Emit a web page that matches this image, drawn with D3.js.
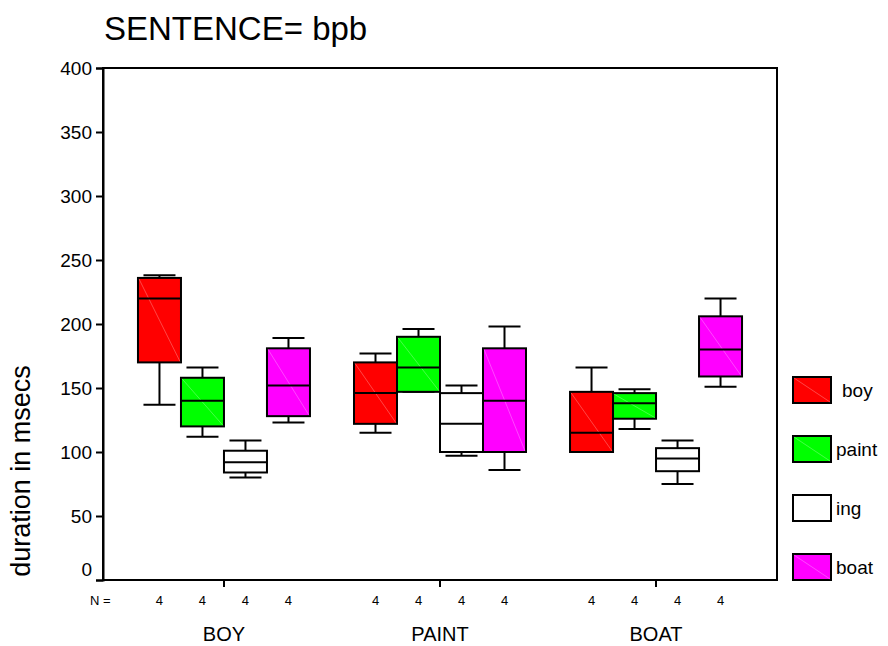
<!DOCTYPE html>
<html>
<head>
<meta charset="utf-8">
<script src="https://cdn.jsdelivr.net/npm/d3@7"></script>
<style>
  body { margin: 0; background: #fff; }
  text { font-family: "Liberation Sans", Arial, sans-serif; fill: #000; }
  .narrow { font-family: "Liberation Sans Narrow", "Liberation Sans", Arial, sans-serif; }
</style>
</head>
<body>
<div id="chart"></div>
<script>
// categories on the x axis and the series drawn inside each of them
const groups = ["BOY", "PAINT", "BOAT"];
const series = ["boy", "paint", "ing", "boat"];
const colors = ["#ff0000", "#00ff00", "#ffffff", "#ff00ff"];

// per series, per group: [lower whisker, q1, median, q3, upper whisker]
const boyStats   = [[137, 170, 220, 236, 238], [115, 122, 146, 170, 177], [100, 100, 115, 147, 166]];
const paintStats = [[112, 120, 140, 158, 166], [147, 147, 166, 190, 196], [118, 126, 138, 146, 149]];
const ingStats   = [[80, 84, 92, 101, 109],    [97, 100, 122, 146, 152],  [75, 85, 95, 103, 109]];
const boatStats  = [[123, 128, 152, 181, 189], [86, 100, 140, 181, 198],  [151, 159, 180, 206, 220]];
const nCounts = [[4, 4, 4, 4], [4, 4, 4, 4], [4, 4, 4, 4]];
const yTicks = [0, 50, 100, 150, 200, 250, 300, 350, 400];

const allStats = [boyStats, paintStats, ingStats, boatStats];

const width = 888, height = 646;
const plot = { left: 103, right: 777, top: 68, bottom: 580 };

const svg = d3.select("#chart")
  .append("svg")
  .attr("width", width)
  .attr("height", height);

const x = d3.scaleBand()
  .domain(groups)
  .range([plot.left, plot.right])
  .paddingInner(0)
  .paddingOuter(0.06);

const xSub = d3.scaleBand()
  .domain(series)
  .range([-86, 86]);

const y = d3.scaleLinear()
  .domain([0, 400])
  .range([plot.bottom, plot.top]);

// title
svg.append("text")
  .attr("x", 104)
  .attr("y", 40)
  .attr("font-size", 33)
  .text("SENTENCE= bpb");

// frame
svg.append("rect")
  .attr("x", plot.left)
  .attr("y", plot.top)
  .attr("width", plot.right - plot.left)
  .attr("height", plot.bottom - plot.top)
  .attr("fill", "none")
  .attr("stroke", "#000")
  .attr("stroke-width", 2);

// y axis
const yAxis = svg.append("g")
  .attr("transform", `translate(${plot.left},0)`)
  .call(d3.axisLeft(y).tickValues(yTicks).tickSize(7).tickPadding(4));
yAxis.select(".domain").attr("stroke-width", 2);
yAxis.selectAll(".tick line").attr("stroke-width", 2);
yAxis.selectAll(".tick text")
  .attr("font-size", 19)
  .attr("font-family", "Liberation Sans, Arial, sans-serif")
  .attr("fill", "#000")
  .attr("dy", d => d === 0 ? "-0.25em" : "0.32em");

svg.append("text")
  .attr("transform", "translate(30,471) rotate(-90)")
  .attr("text-anchor", "middle")
  .attr("font-size", 27)
  .text("duration in msecs");

// x axis ticks under the frame
svg.append("g")
  .selectAll("line")
  .data(groups)
  .join("line")
  .attr("x1", d => x(d) + x.bandwidth() / 2)
  .attr("x2", d => x(d) + x.bandwidth() / 2)
  .attr("y1", plot.bottom)
  .attr("y2", plot.bottom + 7)
  .attr("stroke", "#000")
  .attr("stroke-width", 2);

svg.append("g")
  .selectAll("text")
  .data(groups)
  .join("text")
  .attr("class", "narrow")
  .attr("x", d => x(d) + x.bandwidth() / 2)
  .attr("y", 641)
  .attr("text-anchor", "middle")
  .attr("font-size", 20)
  .text(d => d);

// N = row
svg.append("text")
  .attr("class", "narrow")
  .attr("x", 90)
  .attr("y", 605)
  .attr("font-size", 13)
  .text("N =");

const nRows = [];
groups.forEach((g, gi) => series.forEach((s, si) => nRows.push({ g, s, n: nCounts[gi][si] })));
svg.append("g")
  .selectAll("text")
  .data(nRows)
  .join("text")
  .attr("class", "narrow")
  .attr("x", d => x(d.g) + x.bandwidth() / 2 + xSub(d.s) + xSub.bandwidth() / 2)
  .attr("y", 605)
  .attr("text-anchor", "middle")
  .attr("font-size", 13)
  .text(d => d.n);

// boxes
const boxes = [];
series.forEach((s, si) => groups.forEach((g, gi) => {
  const [lo, q1, med, q3, hi] = allStats[si][gi];
  boxes.push({ s, g, color: colors[si], lo, q1, med, q3, hi });
}));

const bw = xSub.bandwidth();
const capW = 32;
const boxG = svg.append("g")
  .selectAll("g")
  .data(boxes)
  .join("g")
  .attr("transform", d => `translate(${x(d.g) + x.bandwidth() / 2 + xSub(d.s)},0)`);

// whiskers
boxG.append("line")
  .attr("x1", bw / 2).attr("x2", bw / 2)
  .attr("y1", d => y(d.hi)).attr("y2", d => y(d.q3))
  .attr("stroke", "#000").attr("stroke-width", 2);
boxG.append("line")
  .attr("x1", bw / 2).attr("x2", bw / 2)
  .attr("y1", d => y(d.q1)).attr("y2", d => y(d.lo))
  .attr("stroke", "#000").attr("stroke-width", 2);
boxG.append("line")
  .attr("x1", bw / 2 - capW / 2).attr("x2", bw / 2 + capW / 2)
  .attr("y1", d => y(d.hi)).attr("y2", d => y(d.hi))
  .attr("stroke", "#000").attr("stroke-width", 2);
boxG.append("line")
  .attr("x1", bw / 2 - capW / 2).attr("x2", bw / 2 + capW / 2)
  .attr("y1", d => y(d.lo)).attr("y2", d => y(d.lo))
  .attr("stroke", "#000").attr("stroke-width", 2);

boxG.append("rect")
  .attr("x", 0)
  .attr("y", d => y(d.q3))
  .attr("width", bw)
  .attr("height", d => y(d.q1) - y(d.q3))
  .attr("fill", d => d.color)
  .attr("stroke", "#000")
  .attr("stroke-width", 2);

// faint diagonal seen inside the filled boxes
boxG.filter(d => d.color !== "#ffffff")
  .append("line")
  .attr("x1", 1).attr("x2", bw - 1)
  .attr("y1", d => y(d.q3) + 1).attr("y2", d => y(d.q1) - 1)
  .attr("stroke", "#fff").attr("stroke-opacity", 0.35).attr("stroke-width", 0.8);

boxG.append("line")
  .attr("x1", 0).attr("x2", bw)
  .attr("y1", d => y(d.med)).attr("y2", d => y(d.med))
  .attr("stroke", "#000").attr("stroke-width", 2);

// legend
const legend = svg.append("g")
  .selectAll("g")
  .data(series)
  .join("g")
  .attr("transform", (d, i) => `translate(793,${377 + i * 59})`);

legend.append("rect")
  .attr("width", 38)
  .attr("height", 26)
  .attr("fill", (d, i) => colors[i])
  .attr("stroke", "#000")
  .attr("stroke-width", 2);

legend.filter((d, i) => colors[i] !== "#ffffff")
  .append("line")
  .attr("x1", 1).attr("y1", 1).attr("x2", 37).attr("y2", 25)
  .attr("stroke", "#fff").attr("stroke-opacity", 0.35).attr("stroke-width", 0.8);

legend.append("text")
  .attr("x", (d, i) => i === 0 ? 49 : 43)
  .attr("y", 20)
  .attr("font-size", 19)
  .text(d => d);
</script>
</body>
</html>
